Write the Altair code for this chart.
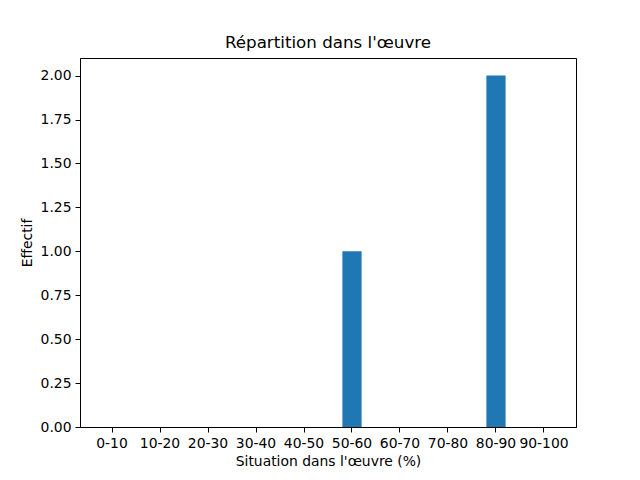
import altair as alt
import pandas as pd

categories = ["0-10", "10-20", "20-30", "30-40", "40-50",
              "50-60", "60-70", "70-80", "80-90", "90-100"]
counts = [0, 0, 0, 0, 0, 1, 0, 0, 2, 0]
y_ticks = [0, 0.25, 0.5, 0.75, 1.0, 1.25, 1.5, 1.75, 2.0]

df = pd.DataFrame({"Situation": categories, "Effectif": counts})

FONT = "DejaVu Sans"

chart = alt.Chart(df).mark_bar(color="#1f77b4").encode(
    x=alt.X(
        "Situation:N",
        sort=categories,
        scale=alt.Scale(paddingInner=0.6, paddingOuter=0.467),
        axis=alt.Axis(title="Situation dans l'œuvre (%)", labelAngle=0,
                      titlePadding=5, labelPadding=4),
    ),
    y=alt.Y(
        "Effectif:Q",
        scale=alt.Scale(domain=[0, 2.1], nice=False, zero=True),
        axis=alt.Axis(title="Effectif", values=y_ticks, format=".2f",
                      titlePadding=6, labelPadding=4),
    ),
).properties(
    width=496,
    height=369,
    title=alt.Title("Répartition dans l'œuvre", fontSize=16.7,
                    fontWeight="normal", font=FONT, offset=6, color="black"),
    padding={"left": 72, "top": 50, "right": 56, "bottom": 45},
    autosize="none",
).configure_view(
    stroke="black", strokeWidth=1
).configure_axis(
    grid=False,
    domain=True,
    domainColor="black",
    tickColor="black",
    tickSize=5,
    labelColor="black",
    titleColor="black",
    labelFont=FONT,
    titleFont=FONT,
    labelFontSize=13.9,
    titleFontSize=13.9,
    titleFontWeight="normal",
)

chart.save("out.html", embed_options={"renderer": "svg", "actions": False})
